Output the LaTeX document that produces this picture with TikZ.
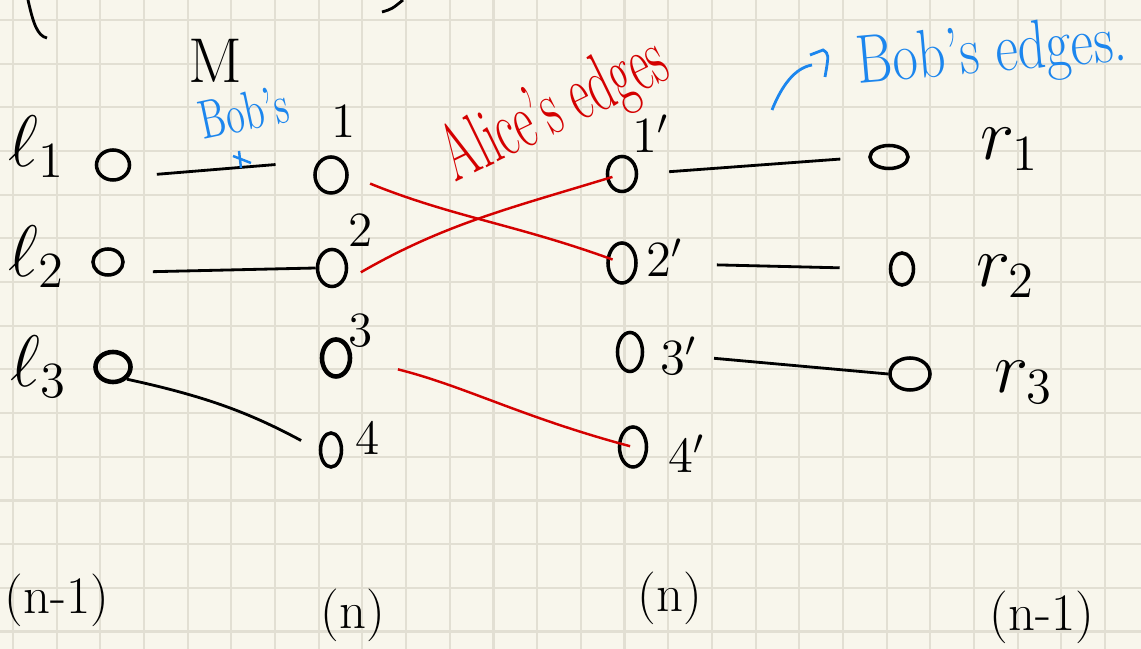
\documentclass[tikz,border=0pt]{standalone}
\usepackage{amsmath}
\usepackage{graphicx}
\usetikzlibrary{shapes.geometric}
\definecolor{paperCream}{RGB}{248,246,236}
\definecolor{gridGray}{RGB}{226,223,211}
\definecolor{aliceRed}{RGB}{212,0,0}
\definecolor{bobBlue}{RGB}{28,134,238}

\begin{document}
\begin{tikzpicture}[x=0.01cm, y=0.01cm,
    vtx/.style={draw, ellipse, line width=1pt, inner sep=0pt, minimum width=0.29cm, minimum height=0.37cm},
    bedge/.style={line width=0.8pt},
    aedge/.style={aliceRed, line width=0.7pt},
    lab/.style={font=\fontsize{14}{16}\selectfont, inner sep=0pt},
    side/.style={font=\fontsize{20}{24}\selectfont, inner sep=0pt, anchor=base west},
    cnt/.style={font=\fontsize{15}{18}\selectfont, inner sep=0pt}]
  \useasboundingbox (0,0) rectangle (1141,-649);
  \fill[paperCream] (0,0) rectangle (1141,-649);
  \foreach \i in {0,...,25}
    \draw[gridGray, line width=0.6pt] ({13+43.68*\i},0) -- ({13+43.68*\i},-649);
  \foreach \j in {0,...,14}
    \draw[gridGray, line width=0.6pt] (0,{-20-43.68*\j}) -- (1141,{-20-43.68*\j});

  % bits of the line above
  \draw[line width=0.8pt] (28,0) .. controls (33,-22) and (37,-36) .. (47,-38);
  \draw[line width=0.8pt] (382,-12) .. controls (392,-9) .. (403,0);

  \node[font=\fontsize{18}{20}\selectfont, inner sep=0pt, anchor=base] (mlab) at (215,-83) {M};

  % side labels
  \node[side] (l1) at (8,-167) {$\ell_1$};
  \node[side] (l2) at (8,-277) {$\ell_2$};
  \node[side] (l3) at (10,-387) {$\ell_3$};
  \node[side] (r1) at (980,-160) {$r_1$};
  \node[side] (r2) at (976,-287) {$r_2$};
  \node[side] (r3) at (994,-393) {$r_3$};

  % vertices
  \node[vtx, minimum width=0.33cm, minimum height=0.3cm] (a1) at (113,-165) {};
  \node[vtx, minimum width=0.3cm, minimum height=0.26cm] (a2) at (108,-262) {};
  \node[vtx, minimum width=0.35cm, minimum height=0.3cm, line width=1.3pt] (a3) at (113,-367) {};
  \node[vtx, minimum width=0.32cm, minimum height=0.36cm] (m1) at (331,-175) {};
  \node[vtx] (m2) at (332,-268) {};
  \node[vtx, minimum width=0.28cm, line width=1.3pt] (m3) at (336,-358) {};
  \node[vtx, minimum width=0.21cm, minimum height=0.34cm] (m4) at (331,-450) {};
  \node[vtx, minimum height=0.35cm] (b1) at (622,-174) {};
  \node[vtx, minimum width=0.28cm, minimum height=0.4cm] (b2) at (622,-263) {};
  \node[vtx, minimum width=0.25cm, minimum height=0.39cm] (b3) at (630,-352) {};
  \node[vtx, minimum width=0.27cm, minimum height=0.4cm] (b4) at (633,-447) {};
  \node[vtx, minimum width=0.38cm, minimum height=0.23cm] (c1) at (889,-157) {};
  \node[vtx, minimum width=0.23cm, minimum height=0.32cm] (c2) at (902,-269) {};
  \node[vtx, minimum width=0.4cm, minimum height=0.32cm] (c3) at (910,-374) {};

  \node[lab, anchor=base] (n1) at (344,-138) {1};
  \node[lab, anchor=base] (n2) at (361,-247) {2};
  \node[lab, anchor=base] (n3) at (361,-347) {3};
  \node[lab, anchor=base] (n4) at (368,-455) {4};
  \node[lab, anchor=base west] (n1p) at (632,-153) {$1'$};
  \node[lab, anchor=base west] (n2p) at (646,-277) {$2'$};
  \node[lab, anchor=base west] (n3p) at (660,-375) {$3'$};
  \node[lab, anchor=base west] (n4p) at (668,-473) {$4'$};

  % Bob's edges
  \draw[bedge, shorten <=0.31cm, shorten >=0.43cm] (a1.south east) -- (m1.north west);
  \draw[bedge, shorten <=0.33cm] (a2.south east) -- (m2.west);
  \draw[bedge, shorten >=0.2cm] (a3.south east) to[bend left=8] (m4.west);
  \draw[bedge, shorten <=0.31cm, shorten >=0.28cm] (b1.east) -- (c1.west);
  \draw[bedge, shorten <=0.79cm, shorten >=0.49cm] (b2.east) -- (c2.west);
  \draw[bedge, shorten <=0.7cm] (b3.east) -- (c3.west);

  % Alice's edges
  \draw[aedge, shorten <=0.23cm, shorten >=0.1cm] (m1.east) to[out=-22, in=160] (b2.center);
  \draw[aedge, shorten <=0.2cm, shorten >=0.1cm] (m2.south east) to[out=30, in=197] (b1.center);
  \draw[aedge, shorten <=0.47cm, shorten >=0.03cm] (m3.east) to[out=-14, in=165] (b4.center);

  \node[font=\fontsize{17}{20}\selectfont, text=aliceRed, inner sep=0pt, anchor=base west, rotate=26] (alice) at (455,-183) {\scalebox{0.8}[1.35]{Alice's edges}};
  \node[font=\fontsize{17}{20}\selectfont, text=bobBlue, inner sep=0pt, anchor=base west, rotate=5] (bob) at (858,-84) {\scalebox{0.92}[1.15]{Bob's edges.}};
  \node[font=\fontsize{12}{14}\selectfont, text=bobBlue, inner sep=0pt, anchor=base west, rotate=12] (bobs) at (203,-140) {\scalebox{0.9}[1.3]{Bob's}};
  \draw[bobBlue, line width=0.7pt] (233,-156) -- (251,-163) (239,-151) -- (241,-168);
  \draw[bobBlue, line width=0.8pt] (772,-110) .. controls (782,-85) and (795,-68) .. (812,-65);
  \draw[bobBlue, line width=0.8pt] (810,-55) -- (823,-50) .. controls (829,-54) .. (825,-77);

  % sizes
  \node[cnt] (cnt1) at (57,-600) {(n-1)};
  \node[cnt] (cnt2) at (353,-615) {(n)};
  \node[cnt] (cnt3) at (670,-598) {(n)};
  \node[cnt] (cnt4) at (1042,-617) {(n-1)};
\end{tikzpicture}
\end{document}
